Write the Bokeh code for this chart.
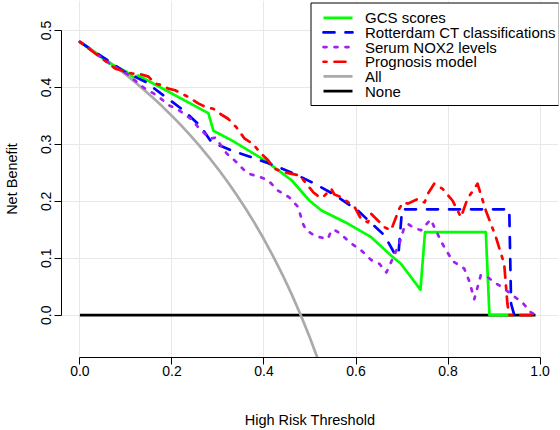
from bokeh.plotting import figure
from bokeh.models import (Range1d, FixedTicker, PrintfTickFormatter, BoxAnnotation,
                          Arrow, Label)
from bokeh.embed import file_html
from bokeh.resources import INLINE

# Decision curves: net benefit against high-risk threshold
gcs_t = [0.0, 0.066, 0.102, 0.116, 0.127, 0.279, 0.290, 0.330, 0.402, 0.460, 0.499,
         0.525, 0.583, 0.633, 0.676, 0.698, 0.740, 0.750, 0.882, 0.890, 0.940]
gcs_nb = [0.480, 0.4415, 0.427, 0.418, 0.421, 0.355, 0.324, 0.307, 0.272, 0.237, 0.201,
          0.184, 0.1605, 0.137, 0.105, 0.090, 0.045, 0.146, 0.146, 0.0, 0.0]

rot_t = [0.0, 0.098, 0.142, 0.185, 0.225, 0.261, 0.286, 0.330, 0.373, 0.423, 0.467, 0.510,
         0.550, 0.604, 0.622, 0.662, 0.684, 0.692, 0.700, 0.933, 0.937, 0.944, 0.960]
rot_nb = [0.480, 0.427, 0.410, 0.384, 0.360, 0.333, 0.304, 0.289, 0.2775, 0.263, 0.248, 0.231,
          0.213, 0.184, 0.170, 0.140, 0.108, 0.105, 0.186, 0.186, 0.020, 0.0, 0.0]

nox_t = [0.0, 0.066, 0.102, 0.138, 0.167, 0.195, 0.210, 0.246, 0.257, 0.283, 0.295, 0.311,
         0.319, 0.336, 0.358, 0.369, 0.394, 0.409, 0.430, 0.455, 0.474, 0.485, 0.492, 0.510,
         0.521, 0.539, 0.546, 0.553, 0.568, 0.586, 0.611, 0.633, 0.651, 0.666, 0.680, 0.694,
         0.705, 0.713, 0.723, 0.741, 0.762, 0.788, 0.810, 0.835, 0.846, 0.857, 0.871, 0.886,
         0.900, 0.918, 0.940, 0.962, 0.980, 0.990]
nox_nb = [0.480, 0.441, 0.424, 0.400, 0.386, 0.368, 0.363, 0.342, 0.330, 0.310, 0.312, 0.293,
          0.284, 0.272, 0.254, 0.248, 0.242, 0.237, 0.219, 0.207, 0.190, 0.160, 0.149, 0.140,
          0.137, 0.134, 0.148, 0.150, 0.142, 0.128, 0.114, 0.097, 0.090, 0.075, 0.100, 0.125,
          0.155, 0.160, 0.155, 0.149, 0.168, 0.125, 0.095, 0.082, 0.060, 0.028, 0.070, 0.067,
          0.058, 0.049, 0.035, 0.022, 0.005, 0.0]

prog_t = [0.0, 0.077, 0.113, 0.134, 0.149, 0.163, 0.178, 0.192, 0.207, 0.236, 0.257, 0.275,
          0.290, 0.304, 0.322, 0.340, 0.358, 0.376, 0.391, 0.409, 0.423, 0.450, 0.478, 0.492,
          0.507, 0.521, 0.528, 0.546, 0.553, 0.568, 0.597, 0.611, 0.626, 0.633, 0.648, 0.662,
          0.676, 0.694, 0.702, 0.713, 0.734, 0.749, 0.756, 0.770, 0.788, 0.810, 0.828, 0.842,
          0.864, 0.882, 0.904, 0.922, 0.929, 0.933, 0.990]
prog_nb = [0.480, 0.433, 0.4245, 0.4227, 0.419, 0.407, 0.404, 0.398, 0.395, 0.383, 0.372, 0.365,
           0.3625, 0.354, 0.345, 0.330, 0.310, 0.301, 0.286, 0.272, 0.257, 0.250, 0.2453, 0.231,
           0.216, 0.207, 0.207, 0.222, 0.212, 0.207, 0.190, 0.169, 0.163, 0.178, 0.166, 0.1545,
           0.149, 0.187, 0.198, 0.196, 0.204, 0.198, 0.213, 0.231, 0.222, 0.201, 0.172, 0.204,
           0.231, 0.184, 0.137, 0.090, 0.020, 0.0, 0.0]

all_t = [0.00, 0.02, 0.04, 0.06, 0.08, 0.10, 0.12, 0.14, 0.16, 0.18, 0.20, 0.22, 0.24, 0.26,
         0.28, 0.30, 0.32, 0.34, 0.36, 0.38, 0.40, 0.42, 0.44, 0.46, 0.48, 0.50, 0.52]
all_nb = [0.480, 0.4694, 0.4583, 0.4468, 0.4348, 0.4222, 0.4091, 0.3953, 0.3810, 0.3659, 0.350,
          0.3333, 0.3158, 0.2973, 0.2778, 0.2571, 0.2353, 0.2121, 0.1875, 0.1613, 0.1333, 0.1034,
          0.0714, 0.0370, 0.0, -0.040, -0.0833]

none_t = [0.0, 0.99]
none_nb = [0.0, 0.0]

x_ticks = [0.0, 0.2, 0.4, 0.6, 0.8, 1.0]
y_ticks = [0.0, 0.1, 0.2, 0.3, 0.4, 0.5]

legend_labels = ["GCS scores", "Rotterdam CT classifications", "Serum NOX2 levels",
                 "Prognosis model", "All", "None"]

FONT = "Liberation Sans"
LW = 2.7

# line style per curve, in legend order
styles = [
    dict(line_color="#00FF00", line_width=LW, line_join="round"),
    dict(line_color="#0000FF", line_width=LW, line_join="round", line_cap="round", line_dash="11 11"),
    dict(line_color="#A020F0", line_width=LW, line_join="round", line_cap="round", line_dash="3 8"),
    dict(line_color="#FF0000", line_width=LW, line_join="round", line_cap="round", line_dash="3 8 11 8"),
    dict(line_color="#AAAAAA", line_width=LW),
    dict(line_color="black", line_width=LW),
]

p = figure(width=560, height=430, output_backend="svg", toolbar_location=None,
           x_range=Range1d(-0.04, 1.04), y_range=Range1d(-0.0743, 0.5527),
           min_border_left=60, min_border_right=2, min_border_top=0, min_border_bottom=73)
p.outline_line_color = None
p.background_fill_color = "white"
p.border_fill_color = "white"

p.xgrid.ticker = FixedTicker(ticks=x_ticks)
p.ygrid.ticker = FixedTicker(ticks=y_ticks)
p.grid.grid_line_color = "#E8E8E8"
p.grid.grid_line_width = 1

for ax in (p.xaxis[0], p.yaxis[0]):
    ax.axis_line_color = "black"
    ax.axis_line_width = 1
    ax.major_tick_line_color = "black"
    ax.major_tick_in = 0
    ax.major_tick_out = 7
    ax.minor_tick_line_color = None
    ax.major_label_text_font = FONT
    ax.major_label_text_font_size = "14px"
    ax.major_label_text_color = "black"
    ax.major_label_text_line_height = 1.0
    ax.axis_label_text_font = FONT
    ax.axis_label_text_font_size = "14.5px"
    ax.axis_label_text_font_style = "normal"
    ax.axis_label_text_color = "black"
    ax.axis_label_text_line_height = 1.0
    ax.formatter = PrintfTickFormatter(format="%.1f")

p.xaxis.ticker = FixedTicker(ticks=x_ticks)
p.yaxis.ticker = FixedTicker(ticks=y_ticks)
p.xaxis.bounds = (0, 1)
p.yaxis.bounds = (0, 0.5)
p.xaxis.axis_label = "High Risk Threshold"
p.yaxis.axis_label = "Net Benefit"
p.xaxis.major_label_standoff = 1
p.yaxis.major_label_standoff = 3
p.xaxis.axis_label_standoff = 33
p.yaxis.axis_label_standoff = 19
p.yaxis.major_label_orientation = "vertical"

# curves: None and All underneath, then the four models
p.line(none_t, none_nb, **styles[5])
p.line(all_t, all_nb, **styles[4])
p.line(gcs_t, gcs_nb, **styles[0])
p.line(rot_t, rot_nb, **styles[1])
p.line(nox_t, nox_nb, **styles[2])
p.line(prog_t, prog_nb, **styles[3])

# boxed key in the top-right corner of the frame (screen px, from frame bottom-left)
box_left, box_right, box_top, box_bottom = 249.5, 497.5, 354.5, 252.0
row0, row_step = 339.7, 14.65
p.add_layout(BoxAnnotation(left=box_left, right=box_right, top=box_top, bottom=box_bottom,
                           left_units="screen", right_units="screen",
                           top_units="screen", bottom_units="screen",
                           fill_color="white", fill_alpha=1.0,
                           line_color="black", line_width=1, line_alpha=1.0))
for i, (lab, st) in enumerate(zip(legend_labels, styles)):
    yy = row0 - i * row_step
    p.add_layout(Arrow(x_start=box_left + 12.5, y_start=yy, x_end=box_left + 41.5, y_end=yy,
                       start_units="screen", end_units="screen", end=None, **st))
    p.add_layout(Label(x=box_left + 54, y=yy, x_units="screen", y_units="screen", text=lab,
                       text_font=FONT, text_font_size="15px", text_color="black",
                       text_baseline="middle", text_align="left"))

open("out.html", "w").write(file_html(p, INLINE))
